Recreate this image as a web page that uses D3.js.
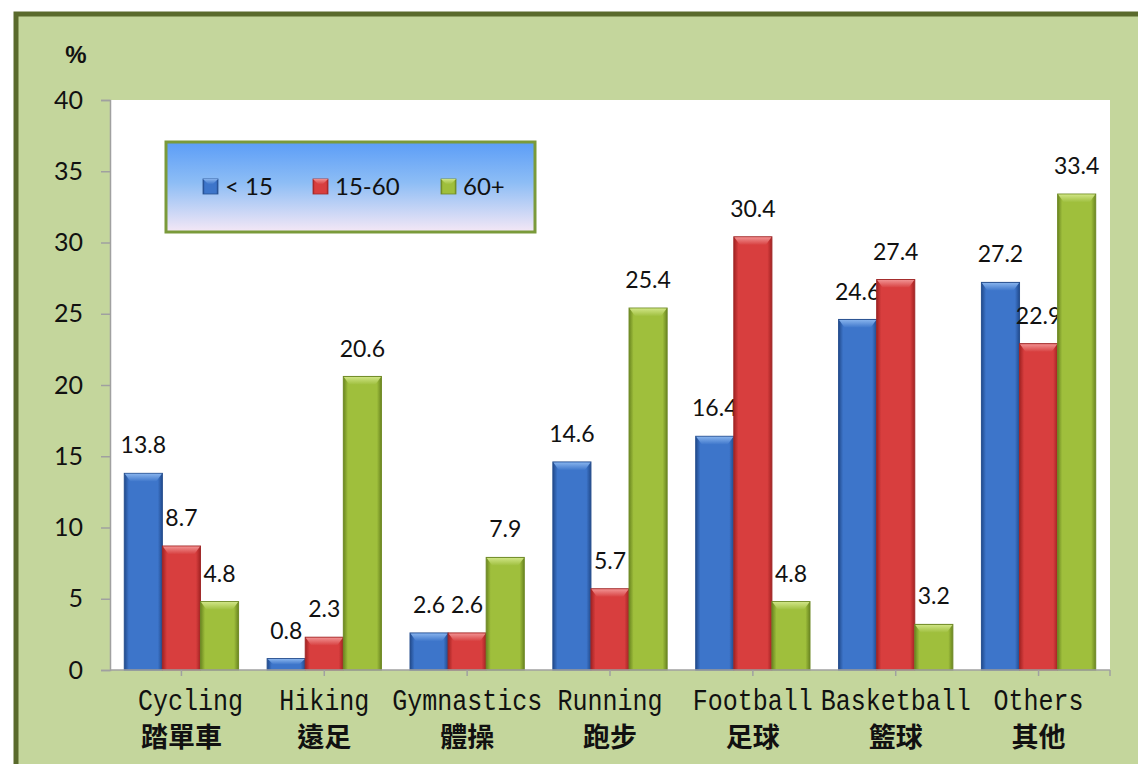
<!DOCTYPE html>
<html><head><meta charset="utf-8">
<script src="https://cdn.jsdelivr.net/npm/d3@7"></script>
<style>body{margin:0;background:#fff}svg{display:block}</style>
</head><body>
<script>
const categories = ["Cycling","Hiking","Gymnastics","Running","Football","Basketball","Others"];
const categoriesZh = ["踏單車","遠足","體操","跑步","足球","籃球","其他"];
const series = ["< 15","15-60","60+"];
const under15 = [13.8,0.8,2.6,14.6,16.4,24.6,27.2];
const age15to60 = [8.7,2.3,2.6,5.7,30.4,27.4,22.9];
const age60plus = [4.8,20.6,7.9,25.4,4.8,3.2,33.4];
const yTicks = [0,5,10,15,20,25,30,35,40];
const values = [under15, age15to60, age60plus];

(function(){
const W=1138,H=764;
const svg=d3.select("body").append("svg").attr("width",W).attr("height",H);
const defs=svg.append("defs");
const pal=[
 {edge:"#214a8c",mid:"#3d75ca",top1:"#86b2ec",top2:"#4078cc",stroke:"#28508f"},
 {edge:"#a22222",mid:"#d83e3e",top1:"#f09090",top2:"#d84242",stroke:"#a02828"},
 {edge:"#6a8520",mid:"#9fbf3c",top1:"#cfe484",top2:"#a0c040",stroke:"#6f8a26"}];
pal.forEach((p,i)=>{
  const g=defs.append("linearGradient").attr("id","bg"+i).attr("x1",0).attr("x2",1).attr("y1",0).attr("y2",0);
  g.append("stop").attr("offset",0).attr("stop-color",p.edge);
  g.append("stop").attr("offset",0.12).attr("stop-color",p.mid);
  g.append("stop").attr("offset",0.5).attr("stop-color",p.mid);
  g.append("stop").attr("offset",0.88).attr("stop-color",p.mid);
  g.append("stop").attr("offset",1).attr("stop-color",p.edge);
  const t=defs.append("linearGradient").attr("id","tg"+i).attr("x1",0).attr("x2",0).attr("y1",0).attr("y2",1);
  t.append("stop").attr("offset",0).attr("stop-color",p.top1);
  t.append("stop").attr("offset",1).attr("stop-color",p.top2);
});
const lg=defs.append("linearGradient").attr("id","legbg").attr("x1",0).attr("x2",0).attr("y1",0).attr("y2",1);
lg.append("stop").attr("offset",0).attr("stop-color","#5b9df7");
lg.append("stop").attr("offset",0.45).attr("stop-color","#8dbdf5");
lg.append("stop").attr("offset",1).attr("stop-color","#f5e8f6");

// frame
svg.append("rect").attr("x",16).attr("y",14).attr("width",W+20).attr("height",H+20)
  .attr("fill","#c4d69c").attr("stroke","#5a6a2c").attr("stroke-width",5);

const pl=110,pr=1110,pt=100,pb=670;
svg.append("rect").attr("x",pl+1).attr("y",pt).attr("width",pr-pl-1).attr("height",pb-pt).attr("fill","#fff");

const y=d3.scaleLinear().domain([0,40]).range([pb,pt]);
const x0=d3.scaleBand().domain(categories).range([pl,pr]).paddingInner(0.2).paddingOuter(0.1);
const x1=d3.scaleBand().domain(series).range([0,x0.bandwidth()]);

// y axis
const yAxis=svg.append("g").attr("transform",`translate(${pl},0)`)
  .call(d3.axisLeft(y).tickValues(yTicks).tickSize(9).tickPadding(18).tickFormat(d3.format("d")));
yAxis.select(".domain").attr("stroke","#a0a0a0").attr("stroke-width",1.5);
yAxis.selectAll(".tick line").attr("stroke","#a0a0a0").attr("stroke-width",1.5);
yAxis.selectAll(".tick text").attr("font-family","Lato, 'Open Sans', sans-serif").attr("font-size",25).attr("fill","#111");

svg.append("text").attr("x",76).attr("y",63).attr("text-anchor","middle")
  .attr("font-family","'Liberation Sans', Arial, sans-serif").attr("font-weight","bold").attr("font-size",24).attr("fill","#111").text("%");

// bars
categories.forEach((c,ci)=>{
  series.forEach((s,si)=>{
    const v=values[si][ci];
    const bx=x0(c)+x1(s), bw=x1.bandwidth(), by=y(v), bh=y(0)-y(v);
    const g=svg.append("g");
    g.append("rect").attr("x",bx).attr("y",by).attr("width",bw).attr("height",bh)
      .attr("fill",`url(#bg${si})`).attr("stroke",pal[si].stroke).attr("stroke-width",1);
    const bev=Math.min(8,bh/2);
    g.append("polygon").attr("points",[[bx+0.5,by+0.5],[bx+bw-0.5,by+0.5],[bx+bw-6,by+bev],[bx+6,by+bev]].map(p=>p.join(",")).join(" "))
      .attr("fill",`url(#tg${si})`);
    svg.append("text").attr("x",bx+bw/2).attr("y",by-28).attr("dy","0.35em").attr("text-anchor","middle")
      .attr("font-family","Lato, 'Open Sans', sans-serif").attr("font-size",23).attr("fill","#111").text(d3.format(".1f")(v));
  });
});

// x axis
svg.append("line").attr("x1",pl).attr("x2",pr).attr("y1",pb).attr("y2",pb).attr("stroke","#a0a0a0").attr("stroke-width",1.5);
categories.forEach(c=>{
  const cx=x0(c)+x0.bandwidth()/2;
  svg.append("line").attr("x1",cx).attr("x2",cx).attr("y1",pb).attr("y2",pb+6).attr("stroke","#a0a0a0").attr("stroke-width",1.5);
});
svg.append("line").attr("x1",pr).attr("x2",pr).attr("y1",pb).attr("y2",pb+6).attr("stroke","#a0a0a0").attr("stroke-width",1.5);

categories.forEach((c,ci)=>{
  const cx=x0(c)+x0.bandwidth()/2;
  svg.append("text").attr("x",cx+(ci===0?9:0)).attr("y",710).attr("text-anchor","middle")
    .attr("font-family","'Liberation Mono', 'DejaVu Sans Mono', monospace").attr("font-size",29)
    .attr("textLength",c.length*15).attr("lengthAdjust","spacingAndGlyphs").attr("fill","#111").text(c);
  svg.append("text").attr("x",cx).attr("y",747).attr("text-anchor","middle")
    .attr("font-family","'Noto Sans CJK TC', sans-serif").attr("font-weight","bold").attr("font-size",27).attr("fill","#111").text(categoriesZh[ci]);
});

// legend
svg.append("rect").attr("x",166).attr("y",142).attr("width",369).attr("height",90)
  .attr("fill","url(#legbg)").attr("stroke","#7a9a3a").attr("stroke-width",3);
const legX=[203,313,441];
series.forEach((s,si)=>{
  svg.append("rect").attr("x",legX[si]).attr("y",179).attr("width",15).attr("height",15)
    .attr("fill",`url(#bg${si})`).attr("stroke",pal[si].stroke).attr("stroke-width",0.8);
  svg.append("polygon").attr("points",`${legX[si]},179 ${legX[si]+15},179 ${legX[si]+10},184 ${legX[si]+5},184`).attr("fill",`url(#tg${si})`);
  svg.append("text").attr("x",legX[si]+22).attr("y",187).attr("dy","0.35em")
    .attr("font-family","Lato, 'Open Sans', sans-serif").attr("font-size",24).attr("fill","#111").text(s);
});
})();
</script>
</body></html>
